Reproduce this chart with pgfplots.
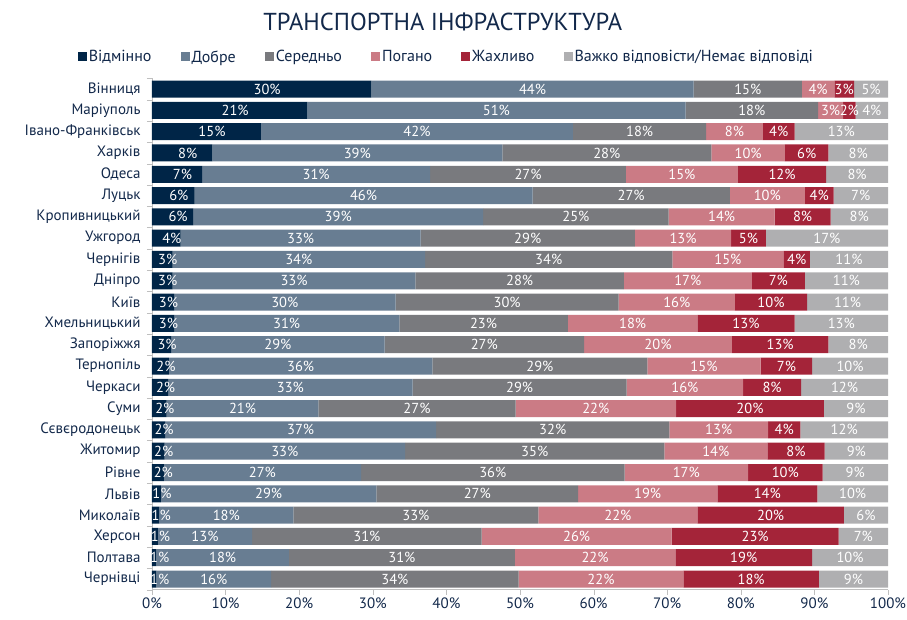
\documentclass[border=0pt]{standalone}
\usepackage{pgfplots}
\pgfplotsset{compat=1.18}
\usepackage{pgfplotstable}
\usepackage{fontspec}
\setmainfont{PT Sans}

\definecolor{cExc}{RGB}{0,37,71}
\definecolor{cGood}{RGB}{104,125,146}
\definecolor{cMid}{RGB}{121,122,126}
\definecolor{cBad}{RGB}{203,123,133}
\definecolor{cAwful}{RGB}{164,36,57}
\definecolor{cNA}{RGB}{175,175,177}
\definecolor{navy}{RGB}{18,40,74}
\definecolor{axisGrey}{RGB}{191,191,191}

% rows listed bottom-up (first row = bottom bar)
\pgfplotstableread{
city v1 v2 v3 v4 v5 v6
Чернівці 0.6 15.6 33.6 22.4 18.4 9.4
Полтава 0.6 18.0 30.7 21.8 18.6 10.3
Херсон 0.8 12.8 31.2 25.8 22.7 6.7
Миколаїв 1.0 18.2 33.3 21.6 19.9 6.0
Львів 1.2 29.3 27.4 18.9 13.6 9.6
Рівне 1.6 26.8 35.8 16.8 10.1 8.9
Житомир 1.7 32.7 35.2 14.0 7.8 8.6
Сєвєродонецьк 1.8 36.8 31.7 13.4 4.4 11.9
Суми 2.0 20.6 26.8 21.8 20.1 8.7
Черкаси 2.2 33.2 29.1 15.8 7.9 11.8
Тернопіль 2.3 35.8 29.2 15.4 7.0 10.3
Запоріжжя 2.6 29.0 27.1 20.1 13.1 8.1
Хмельницький 3.0 30.6 22.9 17.6 13.2 12.7
Київ 3.0 30.1 30.3 15.8 9.8 11.0
Дніпро 2.8 33.0 28.3 17.4 7.2 11.3
Чернігів 2.8 34.3 33.6 15.1 3.6 10.6
Ужгород 3.9 32.6 29.1 13.1 4.7 16.6
Кропивницький 5.6 39.4 25.2 14.4 7.6 7.8
Луцьк 5.8 45.9 26.8 10.2 3.9 7.4
Одеса 6.8 31.0 26.6 15.2 12.0 8.4
Харків 8.2 39.4 28.4 10.0 5.9 8.1
Івано-Франківськ 14.8 42.4 18.1 7.7 4.3 12.7
Маріуполь 21.1 51.4 18.0 3.4 1.7 4.4
Вінниця 29.8 43.8 14.7 4.4 2.7 4.6
}\data

\begin{document}
\begin{tikzpicture}
\begin{axis}[
    xbar stacked,
    x=7.36pt, y=21.3pt,
    xmin=0, xmax=100,
    ymin=-0.5, ymax=23.5,
    bar width=17pt,
    clip=false,
    axis x line*=bottom,
    axis y line*=left,
    axis line style={draw=axisGrey},
    tick style={draw=axisGrey},
    tick align=outside,
    major tick length=5pt,
    minor tick length=5pt,
    /pgf/number format/assume math mode=true,
    xtick={0,10,...,100},
    xticklabel={\pgfmathprintnumber{\tick}\%},
    xticklabel style={font=\fontsize{15}{15}\selectfont, text=navy},
    ytick={0,...,23},
    yticklabels from table={\data}{city},
    minor ytick={-0.5,0.5,...,23.5},
    major y tick style={draw=none},
    yticklabel style={font=\fontsize{15}{15}\selectfont, text=navy, xshift=-3pt},
    point meta=explicit,
    nodes near coords={\pgfmathprintnumber[fixed,precision=0]{\pgfplotspointmeta}\%},
    every node near coord/.append style={text=white,
        font=\fontsize{14.5}{14.5}\selectfont, inner sep=0pt},
    legend style={draw=none, at={(rel axis cs:0.40,1.042)}, anchor=center,
        legend columns=-1, font=\fontsize{16}{16}\selectfont, text=navy,
        /tikz/every even column/.append style={column sep=27pt}},
    legend image code/.code={\fill[#1] (0pt,-4.5pt) rectangle (9pt,4.5pt);},
]
% first segments: labels nudged right so the tiny ones stay on the bar
\addplot[fill=cExc, draw=none,
    every node near coord/.append style={xshift=5.5pt}]
    table[x=v1, y expr=\coordindex, meta=v1]{\data};
\addplot[fill=cGood, draw=none] table[x=v2, y expr=\coordindex, meta=v2]{\data};
\addplot[fill=cMid, draw=none] table[x=v3, y expr=\coordindex, meta=v3]{\data};
\addplot[fill=cBad, draw=none] table[x=v4, y expr=\coordindex, meta=v4]{\data};
\addplot[fill=cAwful, draw=none] table[x=v5, y expr=\coordindex, meta=v5]{\data};
\addplot[fill=cNA, draw=none] table[x=v6, y expr=\coordindex, meta=v6]{\data};
\legend{Відмінно, Добре, Середньо, Погано, Жахливо, Важко відповісти/Немає відповіді}
\node[font=\fontsize{24.5}{26}\selectfont, text=navy] at (rel axis cs:0.395,1.110)
    {ТРАНСПОРТНА ІНФРАСТРУКТУРА};
\end{axis}
\pgfresetboundingbox
\path[use as bounding box] ([shift={(-152pt,-29.35pt)}]current axis.south west)
    rectangle ++(907pt,619pt);
\end{tikzpicture}
\end{document}
